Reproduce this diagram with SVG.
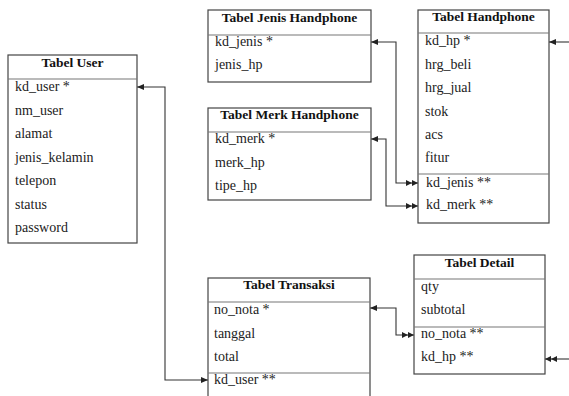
<svg xmlns="http://www.w3.org/2000/svg" width="569" height="396" viewBox="0 0 569 396">
<style>
.box{fill:#fff;stroke:#444;stroke-width:1.2}
.div{stroke:#777;stroke-width:1.2}
.t{font-family:"Liberation Serif",serif;font-size:13.5px;font-weight:bold;fill:#111;text-anchor:middle}
.r{font-family:"Liberation Serif",serif;font-size:14px;fill:#222}
.c{fill:none;stroke:#333;stroke-width:1.1}
</style>
<defs>
<marker id="one" markerUnits="userSpaceOnUse" markerWidth="8" markerHeight="8" refX="7" refY="3.5" orient="auto-start-reverse" viewBox="0 0 8 8">
<path d="M0,0.5 L7,3.5 L0,6.5 z" fill="#222"/>
</marker>
<marker id="many" markerUnits="userSpaceOnUse" markerWidth="14" markerHeight="8" refX="12" refY="3.5" orient="auto-start-reverse" viewBox="0 0 14 8">
<path d="M0,0.5 L6,3.5 L0,6.5 z M6,0.5 L12,3.5 L6,6.5 z" fill="#222"/>
</marker>
</defs>
<g id="connectors">
<path class="c" d="M137,87 L165,87 L165,380 L208,380" marker-start="url(#one)" marker-end="url(#one)"/>
<path class="c" d="M371,42 L396,42 L396,183 L418,183" marker-start="url(#one)" marker-end="url(#many)"/>
<path class="c" d="M371,139 L386,139 L386,206 L418,206" marker-start="url(#one)" marker-end="url(#many)"/>
<path class="c" d="M370,308 L396,308 L396,335 L414,335" marker-start="url(#one)" marker-end="url(#many)"/>
<path class="c" d="M569,42 L549,42" marker-end="url(#one)"/>
<path class="c" d="M569,359 L545,359" marker-end="url(#many)"/>
</g>
<g id="user">
<rect class="box" x="8" y="55" width="129" height="188"/>
<line class="div" x1="8" y1="79" x2="137" y2="79"/>
<text class="t" x="72.5" y="67">Tabel User</text>
<text class="r" x="15" y="91">kd_user *</text>
<text class="r" x="15" y="115">nm_user</text>
<text class="r" x="15" y="138">alamat</text>
<text class="r" x="15" y="162">jenis_kelamin</text>
<text class="r" x="15" y="185">telepon</text>
<text class="r" x="15" y="209">status</text>
<text class="r" x="15" y="232">password</text>
</g>
<g id="jenis">
<rect class="box" x="208" y="10" width="163" height="72"/>
<line class="div" x1="208" y1="35" x2="371" y2="35"/>
<text class="t" x="289.5" y="22">Tabel Jenis Handphone</text>
<text class="r" x="215" y="46">kd_jenis *</text>
<text class="r" x="215" y="69">jenis_hp</text>
</g>
<g id="merk">
<rect class="box" x="208" y="108" width="163" height="92"/>
<line class="div" x1="208" y1="132" x2="371" y2="132"/>
<text class="t" x="289.5" y="119">Tabel Merk Handphone</text>
<text class="r" x="215" y="143">kd_merk *</text>
<text class="r" x="215" y="167">merk_hp</text>
<text class="r" x="215" y="190">tipe_hp</text>
</g>
<g id="handphone">
<rect class="box" x="418" y="10" width="131" height="213"/>
<line class="div" x1="418" y1="33" x2="549" y2="33"/>
<line class="div" x1="418" y1="174" x2="549" y2="174"/>
<text class="t" x="483.5" y="21">Tabel Handphone</text>
<text class="r" x="425" y="45">kd_hp *</text>
<text class="r" x="425" y="69">hrg_beli</text>
<text class="r" x="425" y="92">hrg_jual</text>
<text class="r" x="425" y="116">stok</text>
<text class="r" x="425" y="139">acs</text>
<text class="r" x="425" y="162">fitur</text>
<text class="r" x="426" y="187">kd_jenis **</text>
<text class="r" x="426" y="209">kd_merk **</text>
</g>
<g id="transaksi">
<rect class="box" x="208" y="278" width="162" height="130"/>
<line class="div" x1="208" y1="302" x2="370" y2="302"/>
<line class="div" x1="208" y1="373" x2="370" y2="373"/>
<text class="t" x="289" y="289">Tabel Transaksi</text>
<text class="r" x="214" y="314">no_nota *</text>
<text class="r" x="214" y="338">tanggal</text>
<text class="r" x="214" y="361">total</text>
<text class="r" x="214" y="384">kd_user **</text>
</g>
<g id="detail">
<rect class="box" x="414" y="255" width="131" height="119"/>
<line class="div" x1="414" y1="279" x2="545" y2="279"/>
<line class="div" x1="414" y1="327" x2="545" y2="327"/>
<text class="t" x="479.5" y="267">Tabel Detail</text>
<text class="r" x="421" y="291">qty</text>
<text class="r" x="421" y="314">subtotal</text>
<text class="r" x="421" y="338">no_nota **</text>
<text class="r" x="421" y="361">kd_hp **</text>
</g>
</svg>
